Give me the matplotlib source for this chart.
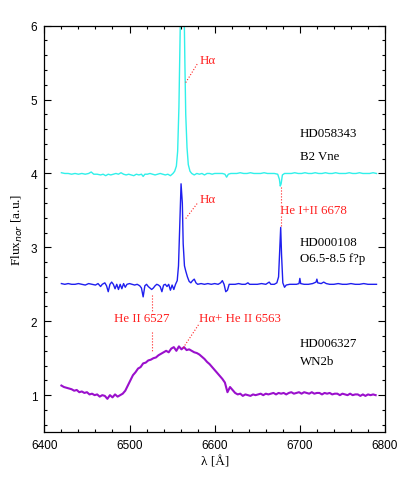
import numpy as np
import matplotlib
matplotlib.use("Agg")
import matplotlib.pyplot as plt
from matplotlib.ticker import MultipleLocator

# HD058343 (B2 Vne)
cyan_wl = [6420, 6424, 6428, 6432, 6436, 6440, 6444, 6448, 6452, 6455, 6458, 6462,
           6466, 6469, 6472, 6475, 6478, 6481, 6484, 6487, 6490, 6493, 6496, 6499,
           6502, 6505, 6508, 6511, 6514, 6516, 6518, 6521, 6524, 6527, 6530, 6533,
           6536, 6539, 6542, 6545, 6548, 6551, 6553, 6555, 6556.5, 6558, 6559, 6560,
           6562, 6564, 6565, 6566, 6567.5, 6569, 6571, 6573, 6576, 6579, 6582, 6585,
           6588, 6591, 6594, 6597, 6600, 6603, 6606, 6609, 6612, 6614, 6616, 6619,
           6622, 6626, 6630, 6634, 6638, 6642, 6646, 6650, 6654, 6658, 6662, 6666,
           6670, 6674, 6676, 6677, 6678, 6679.5, 6682, 6686, 6690, 6694, 6698, 6702,
           6706, 6710, 6714, 6718, 6722, 6726, 6730, 6734, 6738, 6742, 6746, 6750,
           6754, 6758, 6762, 6766, 6770, 6774, 6778, 6782, 6786, 6790]
cyan_flux = [4.01, 4.00, 4.00, 3.99, 4.00, 3.99, 4.00, 3.99, 4.00, 4.02, 3.99, 3.99,
             3.98, 3.99, 3.97, 3.99, 3.98, 3.99, 4.00, 3.99, 4.01, 3.99, 3.98, 3.99,
             3.98, 3.97, 3.99, 3.98, 3.99, 3.96, 3.99, 3.99, 4.00, 3.99, 3.98, 3.99,
             4.00, 3.99, 3.98, 3.99, 3.97, 4.00, 4.03, 4.10, 4.30, 4.90, 5.60, 6.30,
             6.80, 6.30, 5.50, 4.80, 4.35, 4.12, 4.03, 4.00, 3.98, 4.00, 3.99, 4.00,
             3.98, 4.00, 4.00, 3.99, 4.00, 4.00, 4.00, 4.00, 3.99, 3.95, 3.99, 4.00,
             4.00, 4.00, 4.01, 4.00, 4.00, 4.01, 4.00, 4.00, 4.00, 4.01, 4.00, 4.00,
             4.00, 3.99, 3.92, 3.83, 3.86, 3.98, 4.00, 4.00, 4.00, 4.01, 4.00, 4.00,
             4.01, 4.00, 4.00, 4.01, 4.00, 4.00, 4.01, 4.00, 4.00, 4.01, 4.00, 4.00,
             4.00, 4.01, 4.00, 4.00, 4.01, 4.00, 4.00, 4.00, 4.01, 4.00]

# HD000108 (O6.5-8.5 f?p)
blue_wl = [6420, 6424, 6428, 6432, 6436, 6440, 6444, 6448, 6452, 6456, 6460, 6463,
           6466, 6468, 6471, 6473, 6475, 6477, 6479, 6481, 6483, 6485, 6487, 6489,
           6491, 6493, 6495, 6497, 6500, 6503, 6506, 6509, 6512, 6514, 6516, 6518,
           6520, 6522, 6524, 6526, 6528, 6530, 6532, 6534, 6536, 6538, 6540, 6542,
           6544, 6546, 6548, 6550, 6552, 6554, 6556, 6557.5, 6559, 6560.5, 6562, 6563,
           6564.5, 6566, 6568, 6570, 6572, 6574, 6576, 6578, 6580, 6584, 6588, 6592,
           6596, 6600, 6604, 6607, 6609, 6611, 6613, 6615, 6617, 6620, 6624, 6628,
           6632, 6636, 6639, 6641, 6645, 6650, 6655, 6660, 6664, 6666, 6670, 6673,
           6675, 6676.5, 6677.5, 6678.5, 6680, 6682, 6684, 6688, 6692, 6696, 6699, 6700,
           6701, 6705, 6710, 6715, 6719, 6720, 6721, 6725, 6728, 6731, 6735, 6740,
           6745, 6750, 6755, 6760, 6765, 6770, 6775, 6780, 6785, 6790]
blue_flux = [2.51, 2.50, 2.51, 2.50, 2.50, 2.51, 2.50, 2.49, 2.51, 2.50, 2.49, 2.51,
             2.47, 2.50, 2.52, 2.48, 2.40, 2.50, 2.53, 2.50, 2.44, 2.50, 2.43, 2.50,
             2.44, 2.51, 2.46, 2.50, 2.51, 2.50, 2.49, 2.50, 2.48, 2.45, 2.33, 2.48,
             2.50, 2.47, 2.45, 2.43, 2.45, 2.48, 2.50, 2.49, 2.47, 2.40, 2.49, 2.50,
             2.47, 2.50, 2.42, 2.49, 2.43, 2.50, 2.55, 2.75, 3.30, 3.86, 3.60, 3.05,
             2.75, 2.68, 2.60, 2.54, 2.52, 2.55, 2.57, 2.52, 2.50, 2.51, 2.50, 2.51,
             2.50, 2.51, 2.50, 2.52, 2.55, 2.50, 2.40, 2.42, 2.50, 2.50, 2.50, 2.51,
             2.50, 2.50, 2.52, 2.50, 2.50, 2.50, 2.51, 2.50, 2.53, 2.50, 2.50, 2.52,
             2.60, 3.00, 3.27, 2.90, 2.52, 2.46, 2.49, 2.50, 2.50, 2.50, 2.51, 2.58,
             2.51, 2.50, 2.50, 2.51, 2.53, 2.57, 2.52, 2.51, 2.53, 2.51, 2.50, 2.50,
             2.51, 2.50, 2.50, 2.51, 2.50, 2.50, 2.51, 2.50, 2.50, 2.50]

# HD006327 (WN2b), sampled every 3 A from 6420
purple_wl = np.arange(6420, 6790, 3)
purple_flux = [1.13, 1.11, 1.10, 1.09, 1.08, 1.06, 1.07, 1.04, 1.05, 1.03, 1.04, 1.01,
               1.02, 1.00, 1.01, 0.98, 1.00, 0.99, 0.95, 1.00, 0.97, 1.01, 0.98, 1.00,
               1.02, 1.06,
               1.13, 1.20, 1.27, 1.31, 1.36, 1.38, 1.43, 1.44, 1.47, 1.48, 1.50, 1.51,
               1.54, 1.56, 1.58, 1.60, 1.58, 1.63, 1.65, 1.60, 1.66, 1.62, 1.65, 1.61,
               1.62, 1.60, 1.58, 1.57, 1.55, 1.52, 1.49, 1.45, 1.42, 1.38, 1.34, 1.30,
               1.26, 1.22, 1.17,
               1.04, 1.11, 1.07, 1.03, 1.01, 1.02, 0.99, 1.01, 1.00, 0.99, 1.01, 1.00,
               1.01, 1.02, 1.00, 1.02, 1.01, 1.02, 1.03, 1.01, 1.03, 1.02, 1.03, 1.01,
               1.03, 1.04, 1.02, 1.03, 1.04, 1.02, 1.04, 1.03, 1.02, 1.04, 1.02, 1.03,
               1.03, 1.01, 1.03, 1.02, 1.03, 1.01, 1.02, 1.02, 1.00, 1.02, 1.01, 1.00,
               1.02, 1.00, 1.01, 1.01, 0.99, 1.01, 0.99, 1.01, 1.00, 1.01, 1.00]

star_names = ["HD058343", "HD000108", "HD006327"]
sp_types = ["B2 Vne", "O6.5-8.5 f?p", "WN2b"]

fig = plt.figure(figsize=(4.07, 4.85), dpi=100)
ax = fig.add_axes([0.109, 0.107, 0.837, 0.838])

ax.plot(cyan_wl, cyan_flux, color="#30f0ea", lw=1.0)
ax.plot(blue_wl, blue_flux, color="#1f1fef", lw=1.0)
ax.plot(purple_wl, purple_flux, color="#9a10cc", lw=1.5)

serif = "Liberation Serif"
red = "#ff2020"
fs = 9.3

# etiquetas de las lineas
ax.plot([6566, 6580.5], [5.23, 5.50], color=red, ls=":", lw=0.8)
ax.text(6582, 5.53, "Hα", color=red, family=serif, fontsize=fs, va="center")
ax.plot([6566, 6580.5], [3.39, 3.61], color=red, ls=":", lw=0.8)
ax.text(6582, 3.65, "Hα", color=red, family=serif, fontsize=fs, va="center")
ax.plot([6677.5, 6677.5], [3.82, 3.58], color=red, ls=":", lw=0.8)
ax.plot([6677.5, 6677.5], [3.42, 3.28], color=red, ls=":", lw=0.8)
ax.text(6677, 3.50, "He I+II 6678", color=red, family=serif, fontsize=fs, va="center")
ax.plot([6526.5, 6526.5], [2.36, 2.13], color=red, ls=":", lw=0.8)
ax.plot([6526.5, 6526.5], [1.86, 1.60], color=red, ls=":", lw=0.8)
ax.text(6514, 2.05, "He II 6527", color=red, family=serif, fontsize=fs,
        va="center", ha="center")
ax.plot([6563, 6582], [1.64, 1.97], color=red, ls=":", lw=0.8)
ax.text(6581, 2.05, "Hα+ He II 6563", color=red, family=serif, fontsize=fs, va="center")

# nombres de las estrellas
name_y = [4.55, 3.07, 1.70]
type_y = [4.24, 2.85, 1.46]
for n, t, yn, yt in zip(star_names, sp_types, name_y, type_y):
    ax.text(6700, yn, n, color="black", family=serif, fontsize=fs, va="center")
    ax.text(6700, yt, t, color="black", family=serif, fontsize=fs, va="center")

ax.set_xlim(6400, 6800)
ax.set_ylim(0.5, 6)
ax.xaxis.set_major_locator(MultipleLocator(100))
ax.xaxis.set_minor_locator(MultipleLocator(20))
ax.yaxis.set_major_locator(MultipleLocator(1))
ax.yaxis.set_minor_locator(MultipleLocator(0.2))
ax.tick_params(which="both", direction="in", top=True, right=True, width=0.8)
ax.tick_params(which="major", length=5, labelsize=8.5, pad=5)
ax.tick_params(which="minor", length=2.5)
for lab in ax.get_xticklabels() + ax.get_yticklabels():
    lab.set_family("Liberation Sans")
for s in ax.spines.values():
    s.set_linewidth(0.9)

ax.set_xlabel("λ [Å]", family=serif, fontsize=9.5, labelpad=3)
ax.set_ylabel("Flux$_{nor}$ [a.u.]", family=serif, fontsize=9.5, labelpad=4)

fig.savefig("out.png", dpi=100)
